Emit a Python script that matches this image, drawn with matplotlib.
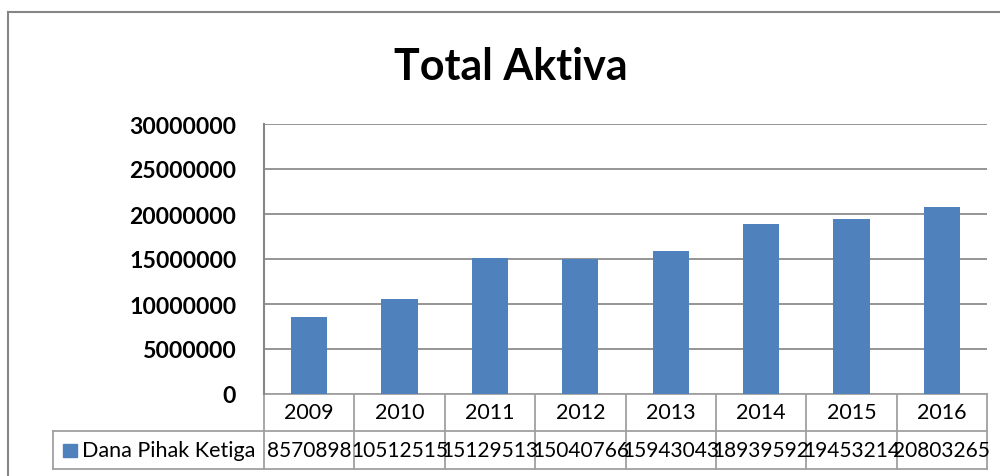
import matplotlib
matplotlib.use("Agg")
import matplotlib.pyplot as plt
from matplotlib.lines import Line2D
from matplotlib.patches import Rectangle
import matplotlib.transforms as mtransforms

years = ["2009", "2010", "2011", "2012", "2013", "2014", "2015", "2016"]
values = [8570898, 10512515, 15129513, 15040766, 15943043, 18939592, 19453214, 20803265]
series_name = "Dana Pihak Ketiga"
title = "Total Aktiva"
yticks = [0, 5000000, 10000000, 15000000, 20000000, 25000000, 30000000]

plt.rcParams['font.family'] = ['Lato', 'DejaVu Sans']

W, H = 1000, 477
fig = plt.figure(figsize=(W / 100, H / 100), dpi=100)

def fx(px):
    return px / W

def fy(py):
    return 1 - py / H

ax_left, ax_right, ax_top, ax_bot = 264, 987, 125, 395
ax = fig.add_axes([fx(ax_left), fy(ax_bot), fx(ax_right - ax_left), (ax_bot - ax_top) / H])

bar_color = '#4F81BD'
grid_color = '#8C8C8C'
line_color = '#A0A0A0'

x = list(range(len(years)))
ax.bar(x, values, width=0.4, color=bar_color, zorder=3)
ax.set_xlim(-0.5, len(years) - 0.5)
ax.set_ylim(0, 30000000)
ax.set_yticks(yticks)
ax.set_yticklabels([str(v) for v in yticks], fontsize=16.6, fontweight='bold')
ax.tick_params(axis='y', length=0, pad=20)
ax.set_xticks([])
ax.grid(axis='y', color=grid_color, linewidth=1.3, zorder=0)
for s in ['top', 'right', 'bottom']:
    ax.spines[s].set_visible(False)
ax.spines['left'].set_color('#868686')
ax.spines['left'].set_linewidth(1.5)
ax.set_axisbelow(True)

# Data table below the axes
row1 = 37 / (ax_bot - ax_top)
row2 = 38 / (ax_bot - ax_top)
trans = mtransforms.blended_transform_factory(ax.transData, ax.transAxes)
y0, y1, y2 = 0, -row1, -(row1 + row2)
lw = 1.3
for yy in (y0, y1, y2):
    ax.add_line(Line2D([-0.5, len(years) - 0.5], [yy, yy], transform=trans, color=line_color, lw=lw, clip_on=False))
for i in range(len(years) + 1):
    ax.add_line(Line2D([i - 0.5, i - 0.5], [y0, y2], transform=trans, color=line_color, lw=lw, clip_on=False))
for i, (yr, v) in enumerate(zip(years, values)):
    ax.text(i, (y0 + y1) / 2, yr, transform=trans, ha='center', va='center', fontsize=15.5)
    ax.text(i, (y1 + y2) / 2, str(v), transform=trans, ha='center', va='center', fontsize=15)

# legend cell
leg_left = (53 - ax_left) / (ax_right - ax_left)
ax.add_line(Line2D([leg_left, 0], [y1, y1], transform=ax.transAxes, color=line_color, lw=lw, clip_on=False))
ax.add_line(Line2D([leg_left, 0], [y2, y2], transform=ax.transAxes, color=line_color, lw=lw, clip_on=False))
ax.add_line(Line2D([leg_left, leg_left], [y1, y2], transform=ax.transAxes, color=line_color, lw=lw, clip_on=False))
fig.patches.append(Rectangle((fx(63), fy(458)), fx(14), 13 / H, transform=fig.transFigure, color=bar_color))
fig.text(fx(82), fy(451), series_name, ha='left', va='center', fontsize=15.5)

# title
fig.text(fx(511), fy(80), title, ha='center', va='baseline', fontsize=31, fontweight='bold')

# outer chart frame
fig.add_artist(Line2D([fx(8), fx(8)], [fy(13), 0], transform=fig.transFigure, color='#868686', lw=1.5))
fig.add_artist(Line2D([fx(8), 1], [fy(13), fy(13)], transform=fig.transFigure, color='#868686', lw=1.5))

fig.savefig('out.png', dpi=100)
